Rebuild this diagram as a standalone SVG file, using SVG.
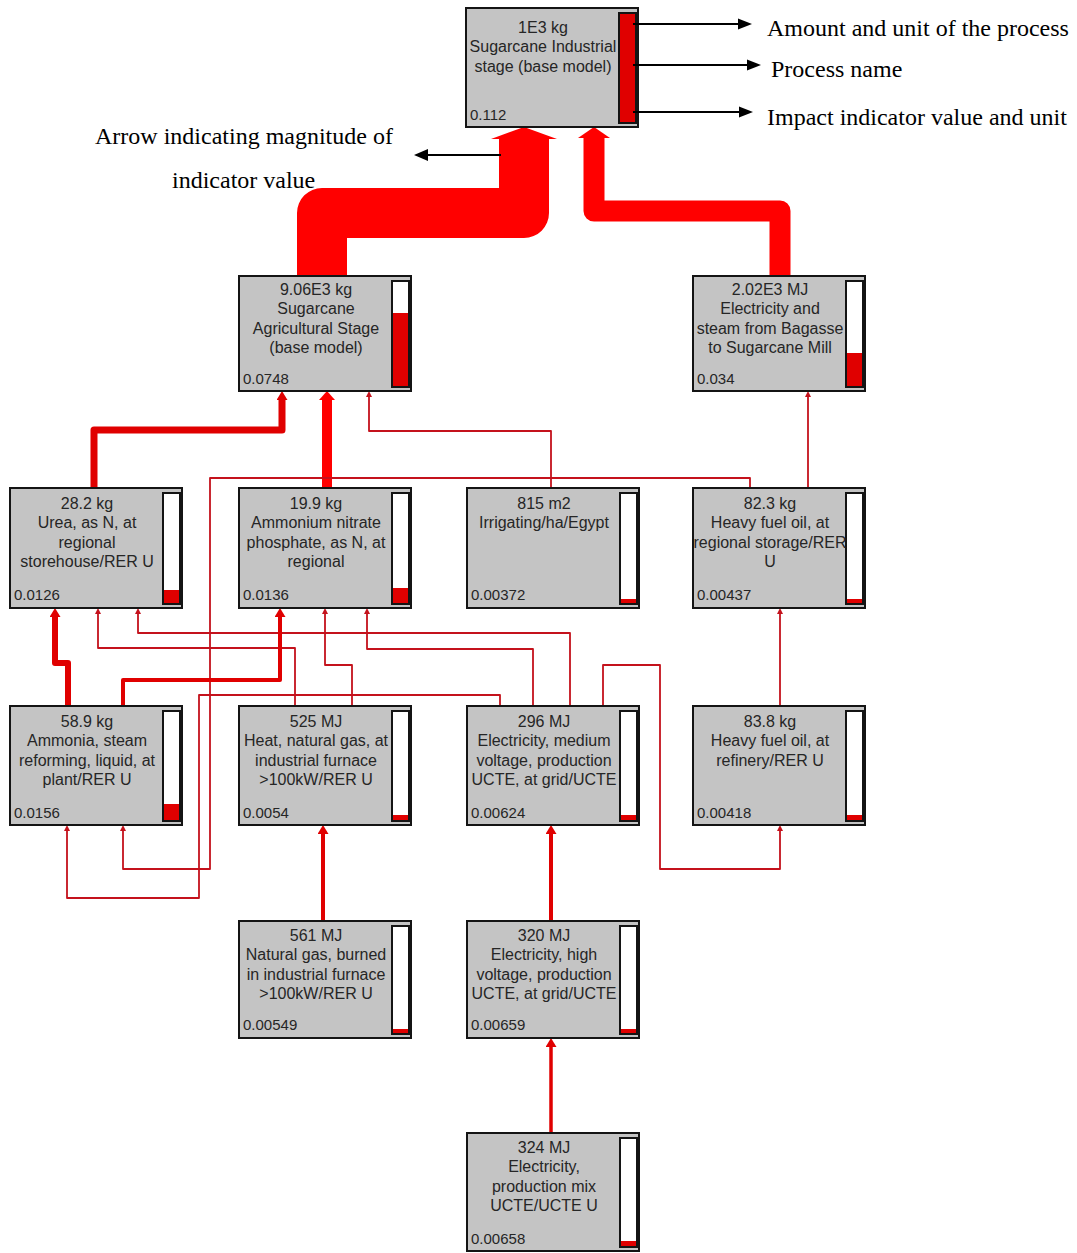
<svg xmlns="http://www.w3.org/2000/svg" width="1077" height="1253" viewBox="0 0 1077 1253">
<style>
.box{fill:#c4c4c4;stroke:#141414;stroke-width:2}
.bar{fill:#fff}
.barb{fill:none;stroke:#141414;stroke-width:2}
.lvl{fill:#e00000}
.t{font-family:"Liberation Sans",Arial,sans-serif;font-size:16px;fill:#262626;text-anchor:middle}
.v{font-family:"Liberation Sans",Arial,sans-serif;font-size:15px;fill:#262626}
.ann{font-family:"Liberation Serif","Times New Roman",serif;font-size:24px;fill:#000}
.c{fill:none;stroke-linejoin:round}
.thin{stroke:#c4121c;stroke-width:1.8}
.med{stroke:#e00000}
.big{stroke:#ff0000}
.al{stroke:#000;stroke-width:2}
</style>
<defs>
<marker id="hs" viewBox="0 0 10 10" refX="0" refY="5" markerWidth="6" markerHeight="6" markerUnits="userSpaceOnUse" orient="auto" preserveAspectRatio="none"><path d="M0,0L10,5L0,10z" fill="#c4121c"/></marker>
<marker id="hm" viewBox="0 0 10 10" refX="0" refY="5" markerWidth="9" markerHeight="11" markerUnits="userSpaceOnUse" orient="auto" preserveAspectRatio="none"><path d="M0,0L10,5L0,10z" fill="#e00000"/></marker>
<marker id="hl" viewBox="0 0 10 10" refX="0" refY="5" markerWidth="9" markerHeight="16" markerUnits="userSpaceOnUse" orient="auto" preserveAspectRatio="none"><path d="M0,0L10,5L0,10z" fill="#ff0000"/></marker>
</defs>
<rect width="1077" height="1253" fill="#fff"/>

<g id="connectors">
<path class="c big" stroke-width="50" d="M322 276V213H524V137"/>
<polygon points="524,127 557,139 491,139" fill="#ff0000"/>
<path class="c big" stroke-width="21" d="M780 276V211H594V137"/>
<polygon points="594,127 610,138 578,138" fill="#ff0000"/>
<path class="c med" stroke-width="7" d="M94 488V430H282V400" marker-end="url(#hm)"/>
<path class="c big" stroke-width="10" d="M327 488V400" marker-end="url(#hl)"/>
<path class="c thin" d="M551 488V431H369V397" marker-end="url(#hs)"/>
<path class="c thin" stroke-width="2" d="M808 488V397" marker-end="url(#hs)"/>
<path class="c thin" d="M750 488V478H210V869H123V831" marker-end="url(#hs)"/>
<path class="c med" stroke-width="6" d="M68 706V663H55V617" marker-end="url(#hm)"/>
<path class="c thin" d="M295 706V648H98V614" marker-end="url(#hs)"/>
<path class="c thin" d="M570 706V633H138V614" marker-end="url(#hs)"/>
<path class="c med" stroke-width="4" d="M123 706V680H280V617" marker-end="url(#hm)"/>
<path class="c thin" d="M352 706V665H325V614" marker-end="url(#hs)"/>
<path class="c thin" d="M533 706V649H367V614" marker-end="url(#hs)"/>
<path class="c thin" d="M500 706V695H199V898H67V831" marker-end="url(#hs)"/>
<path class="c thin" d="M603 706V665H660V869H780V831" marker-end="url(#hs)"/>
<path class="c thin" stroke-width="2" d="M780 706V614" marker-end="url(#hs)"/>
<path class="c med" stroke-width="4" d="M323 921V834" marker-end="url(#hm)"/>
<path class="c med" stroke-width="4" d="M551 921V834" marker-end="url(#hm)"/>
<path class="c med" stroke-width="3.5" d="M551 1133V1047" marker-end="url(#hm)"/>
</g>

<g id="n-top">
<rect class="box" x="466" y="8" width="172" height="119"/>
<rect class="bar" x="619" y="13" width="17" height="110"/>
<rect class="lvl" x="619" y="13" width="17" height="110"/>
<rect class="barb" x="619" y="13" width="17" height="110"/>
<text class="t" x="543" y="32.5">1E3 kg</text>
<text class="t" x="543" y="52">Sugarcane Industrial</text>
<text class="t" x="543" y="71.5">stage (base model)</text>
<text class="v" x="470" y="119.5">0.112</text>
</g>

<g id="n-agri">
<rect class="box" x="239" y="276" width="172" height="115"/>
<rect class="bar" x="392" y="281" width="17" height="106"/>
<rect class="lvl" x="392" y="313" width="17" height="74"/>
<rect class="barb" x="392" y="281" width="17" height="106"/>
<text class="t" x="316" y="294.5">9.06E3 kg</text>
<text class="t" x="316" y="314">Sugarcane</text>
<text class="t" x="316" y="333.5">Agricultural Stage</text>
<text class="t" x="316" y="353">(base model)</text>
<text class="v" x="243" y="383.5">0.0748</text>
</g>

<g id="n-elecsteam">
<rect class="box" x="693" y="276" width="172" height="115"/>
<rect class="bar" x="846" y="281" width="17" height="106"/>
<rect class="lvl" x="846" y="353" width="17" height="34"/>
<rect class="barb" x="846" y="281" width="17" height="106"/>
<text class="t" x="770" y="294.5">2.02E3 MJ</text>
<text class="t" x="770" y="314">Electricity and</text>
<text class="t" x="770" y="333.5">steam from Bagasse</text>
<text class="t" x="770" y="353">to Sugarcane Mill</text>
<text class="v" x="697" y="383.5">0.034</text>
</g>

<g id="n-urea">
<rect class="box" x="10" y="488" width="172" height="120"/>
<rect class="bar" x="163" y="493" width="17" height="111"/>
<rect class="lvl" x="163" y="590" width="17" height="14"/>
<rect class="barb" x="163" y="493" width="17" height="111"/>
<text class="t" x="87" y="508.5">28.2 kg</text>
<text class="t" x="87" y="528">Urea, as N, at</text>
<text class="t" x="87" y="547.5">regional</text>
<text class="t" x="87" y="567">storehouse/RER U</text>
<text class="v" x="14" y="599.5">0.0126</text>
</g>

<g id="n-ammonium">
<rect class="box" x="239" y="488" width="172" height="120"/>
<rect class="bar" x="392" y="493" width="17" height="111"/>
<rect class="lvl" x="392" y="588" width="17" height="16"/>
<rect class="barb" x="392" y="493" width="17" height="111"/>
<text class="t" x="316" y="508.5">19.9 kg</text>
<text class="t" x="316" y="528">Ammonium nitrate</text>
<text class="t" x="316" y="547.5">phosphate, as N, at</text>
<text class="t" x="316" y="567">regional</text>
<text class="v" x="243" y="599.5">0.0136</text>
</g>

<g id="n-irrig">
<rect class="box" x="467" y="488" width="172" height="120"/>
<rect class="bar" x="620" y="493" width="17" height="111"/>
<rect class="lvl" x="620" y="599" width="17" height="5"/>
<rect class="barb" x="620" y="493" width="17" height="111"/>
<text class="t" x="544" y="508.5">815 m2</text>
<text class="t" x="544" y="528">Irrigating/ha/Egypt</text>
<text class="v" x="471" y="599.5">0.00372</text>
</g>

<g id="n-storage">
<rect class="box" x="693" y="488" width="172" height="120"/>
<rect class="bar" x="846" y="493" width="17" height="111"/>
<rect class="lvl" x="846" y="599" width="17" height="5"/>
<rect class="barb" x="846" y="493" width="17" height="111"/>
<text class="t" x="770" y="508.5">82.3 kg</text>
<text class="t" x="770" y="528">Heavy fuel oil, at</text>
<text class="t" x="770" y="547.5">regional storage/RER</text>
<text class="t" x="770" y="567">U</text>
<text class="v" x="697" y="599.5">0.00437</text>
</g>

<g id="n-ammonia">
<rect class="box" x="10" y="706" width="172" height="119"/>
<rect class="bar" x="163" y="711" width="17" height="110"/>
<rect class="lvl" x="163" y="804" width="17" height="17"/>
<rect class="barb" x="163" y="711" width="17" height="110"/>
<text class="t" x="87" y="726.5">58.9 kg</text>
<text class="t" x="87" y="746">Ammonia, steam</text>
<text class="t" x="87" y="765.5">reforming, liquid, at</text>
<text class="t" x="87" y="785">plant/RER U</text>
<text class="v" x="14" y="817.5">0.0156</text>
</g>

<g id="n-heat">
<rect class="box" x="239" y="706" width="172" height="119"/>
<rect class="bar" x="392" y="711" width="17" height="110"/>
<rect class="lvl" x="392" y="815" width="17" height="6"/>
<rect class="barb" x="392" y="711" width="17" height="110"/>
<text class="t" x="316" y="726.5">525 MJ</text>
<text class="t" x="316" y="746">Heat, natural gas, at</text>
<text class="t" x="316" y="765.5">industrial furnace</text>
<text class="t" x="316" y="785">&gt;100kW/RER U</text>
<text class="v" x="243" y="817.5">0.0054</text>
</g>

<g id="n-elecmed">
<rect class="box" x="467" y="706" width="172" height="119"/>
<rect class="bar" x="620" y="711" width="17" height="110"/>
<rect class="lvl" x="620" y="815" width="17" height="6"/>
<rect class="barb" x="620" y="711" width="17" height="110"/>
<text class="t" x="544" y="726.5">296 MJ</text>
<text class="t" x="544" y="746">Electricity, medium</text>
<text class="t" x="544" y="765.5">voltage, production</text>
<text class="t" x="544" y="785">UCTE, at grid/UCTE</text>
<text class="v" x="471" y="817.5">0.00624</text>
</g>

<g id="n-refinery">
<rect class="box" x="693" y="706" width="172" height="119"/>
<rect class="bar" x="846" y="711" width="17" height="110"/>
<rect class="lvl" x="846" y="815" width="17" height="6"/>
<rect class="barb" x="846" y="711" width="17" height="110"/>
<text class="t" x="770" y="726.5">83.8 kg</text>
<text class="t" x="770" y="746">Heavy fuel oil, at</text>
<text class="t" x="770" y="765.5">refinery/RER U</text>
<text class="v" x="697" y="817.5">0.00418</text>
</g>

<g id="n-natgas">
<rect class="box" x="239" y="921" width="172" height="117"/>
<rect class="bar" x="392" y="926" width="17" height="108"/>
<rect class="lvl" x="392" y="1029" width="17" height="5"/>
<rect class="barb" x="392" y="926" width="17" height="108"/>
<text class="t" x="316" y="940.5">561 MJ</text>
<text class="t" x="316" y="960">Natural gas, burned</text>
<text class="t" x="316" y="979.5">in industrial furnace</text>
<text class="t" x="316" y="999">&gt;100kW/RER U</text>
<text class="v" x="243" y="1029.5">0.00549</text>
</g>

<g id="n-elechigh">
<rect class="box" x="467" y="921" width="172" height="117"/>
<rect class="bar" x="620" y="926" width="17" height="108"/>
<rect class="lvl" x="620" y="1029" width="17" height="5"/>
<rect class="barb" x="620" y="926" width="17" height="108"/>
<text class="t" x="544" y="940.5">320 MJ</text>
<text class="t" x="544" y="960">Electricity, high</text>
<text class="t" x="544" y="979.5">voltage, production</text>
<text class="t" x="544" y="999">UCTE, at grid/UCTE</text>
<text class="v" x="471" y="1029.5">0.00659</text>
</g>

<g id="n-elecmix">
<rect class="box" x="467" y="1133" width="172" height="118"/>
<rect class="bar" x="620" y="1138" width="17" height="109"/>
<rect class="lvl" x="620" y="1241" width="17" height="6"/>
<rect class="barb" x="620" y="1138" width="17" height="109"/>
<text class="t" x="544" y="1152.5">324 MJ</text>
<text class="t" x="544" y="1172">Electricity,</text>
<text class="t" x="544" y="1191.5">production mix</text>
<text class="t" x="544" y="1211">UCTE/UCTE U</text>
<text class="v" x="471" y="1243.5">0.00658</text>
</g>

<g id="annotations">
<line class="al" x1="633" y1="24" x2="739" y2="24"/>
<polygon points="738,18.5 752,24 738,29.5"/>
<text class="ann" x="767" y="36">Amount and unit of the process</text>
<line class="al" x1="633" y1="65" x2="748" y2="65"/>
<polygon points="747,59.5 761,65 747,70.5"/>
<text class="ann" x="771" y="77">Process name</text>
<line class="al" x1="633" y1="112" x2="740" y2="112"/>
<polygon points="739,106.5 753,112 739,117.5"/>
<text class="ann" x="767" y="125">Impact indicator value and unit</text>
<line class="al" x1="501" y1="155" x2="427" y2="155"/>
<polygon points="428,149 414,155 428,161"/>
<text class="ann" x="95" y="144">Arrow indicating magnitude of</text>
<text class="ann" x="172" y="188">indicator value</text>
</g>
</svg>
